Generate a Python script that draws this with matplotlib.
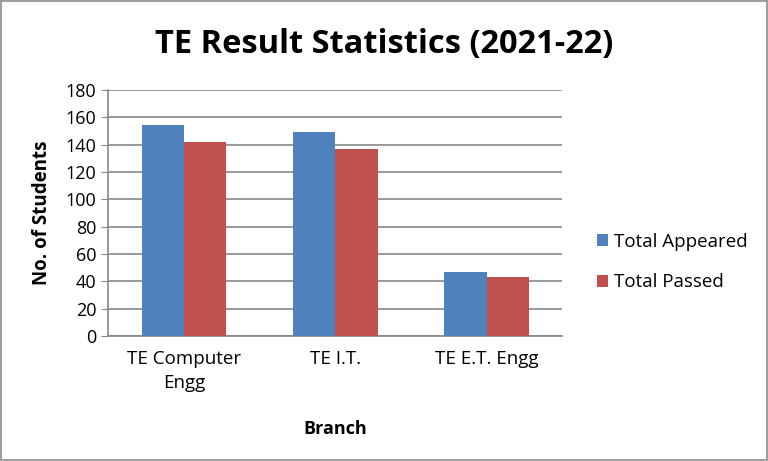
import numpy as np
import matplotlib.pyplot as plt

branches = ["TE Computer\nEngg", "TE I.T.", "TE E.T. Engg"]
appeared = [154, 149, 47]
passed = [142, 137, 43]

plt.rcParams['font.family'] = ['Open Sans', 'DejaVu Sans']

fig = plt.figure(figsize=(7.68, 4.61), dpi=100)
fig.patch.set_edgecolor('#a0a0a0')
fig.patch.set_linewidth(1.5)
ax = fig.add_axes([0.141, 0.271, 0.591, 0.534])

x = np.arange(len(branches))
w = 0.28
ax.bar(x - w / 2, appeared, w, color='#4F81BD', label='Total Appeared', zorder=3)
ax.bar(x + w / 2, passed, w, color='#C0504D', label='Total Passed', zorder=3)

ax.set_xlim(-0.5, 2.5)
ax.set_ylim(0, 180)
ax.set_yticks(range(0, 181, 20))
ax.set_xticks(x)
ax.set_xticklabels(branches, fontsize=13.5, linespacing=1.45)
ax.tick_params(axis='y', labelsize=13, color='#888888', length=5)
ax.tick_params(axis='x', length=0, pad=10)
ax.grid(axis='y', color='#888888', linewidth=1.2, zorder=0)
for s in ['top', 'right']:
    ax.spines[s].set_visible(False)
for s in ['left', 'bottom']:
    ax.spines[s].set_color('#888888')
    ax.spines[s].set_linewidth(1.2)

ax.set_xlabel('Branch', fontsize=13, fontweight='bold', labelpad=20)
ax.set_ylabel('No. of Students', fontsize=13.5, fontweight='bold', labelpad=10)
fig.suptitle('TE Result Statistics (2021-22)', fontsize=23.5, fontweight='bold', y=0.94)

ax.legend(loc='center left', bbox_to_anchor=(1.04, 0.3), frameon=False,
          fontsize=13.5, handlelength=0.6, handleheight=0.6, handletextpad=0.3,
          labelspacing=1.2)

fig.savefig('out.png', dpi=100, edgecolor=fig.get_edgecolor())
